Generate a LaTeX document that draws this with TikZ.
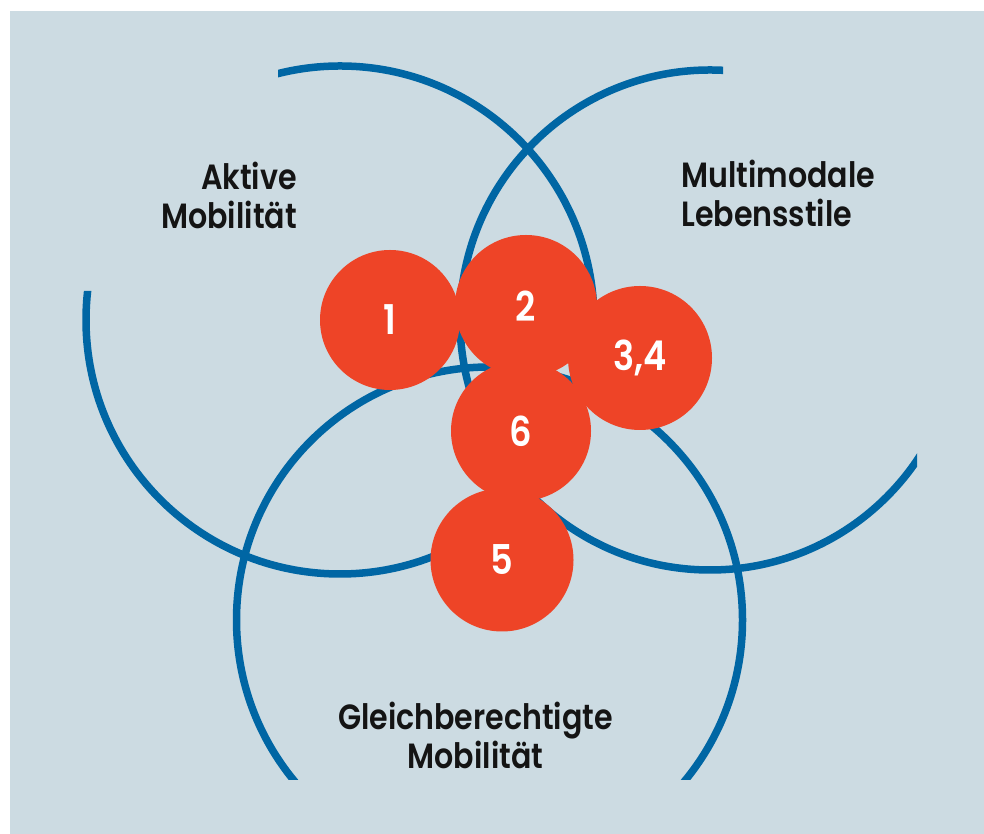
\documentclass[tikz,border=0pt]{standalone}
\usepackage{fontspec}
\usepackage{tikz}
\usetikzlibrary{positioning}
\newfontfamily\lblfont[FakeStretch=0.86,BoldFont={Poppins SemiBold}]{Poppins}
\definecolor{bgblue}{RGB}{204,219,226}
\definecolor{ringblue}{RGB}{0,102,164}
\definecolor{dotred}{RGB}{238,68,39}
\definecolor{txtblack}{RGB}{20,20,20}

\begin{document}
\begin{tikzpicture}[x=1pt,y=1pt,
        ring/.style={draw=ringblue, line width=7.5pt},
        dot/.style={circle, fill=dotred, inner sep=0pt, text=white,
            font=\lblfont\bfseries\fontsize{41}{41}\selectfont},
        lbl/.style={inner sep=0pt, text=txtblack,
            font=\lblfont\bfseries\fontsize{35}{39}\selectfont}]
            \useasboundingbox (0,0) rectangle (984,834);
            \fill[bgblue] (10,0) rectangle (984,823);

            % drei Kreise, abgeschnitten
            \begin{scope}
                \clip (0,0) -- (984,0) -- (984,834) -- (278,834) -- (278,543) -- (0,543) -- cycle;
                \draw[ring] (340,514) circle[radius=254];
            \end{scope}
            \begin{scope}
                \clip (0,0) -- (917,0) -- (917,514) -- (723,514) -- (723,834) -- (0,834) -- cycle;
                \draw[ring] (710,514) circle[radius=250];
            \end{scope}
            \begin{scope}
                \clip (0,54) rectangle (984,834);
                \draw[ring] (489.5,214) circle[radius=253];
            \end{scope}

            \node[lbl, anchor=north east, align=right] (aktiv) at (297,672) {Aktive\\Mobilität};
            \node[lbl, anchor=north west, align=left] (multi) at (681,674) {Multimodale\\Lebensstile};
            \node[lbl, anchor=north, align=center] (gleich) at (475.5,132) {Gleichberechtigte\\Mobilität};

            % Punkte
            \node[dot, minimum size=140pt] (p1) at (390,514) {1};
            \node[dot, minimum size=142pt] (p2) at (526,528) {2};
            \node[dot, minimum size=144pt] (p34) at (640,476) {3,4};
            \node[dot, minimum size=140pt] (p6) at (521,403) {6};
            \node[dot, minimum size=143pt] (p5) at (502,274) {5};
        \end{tikzpicture}
\end{document}
